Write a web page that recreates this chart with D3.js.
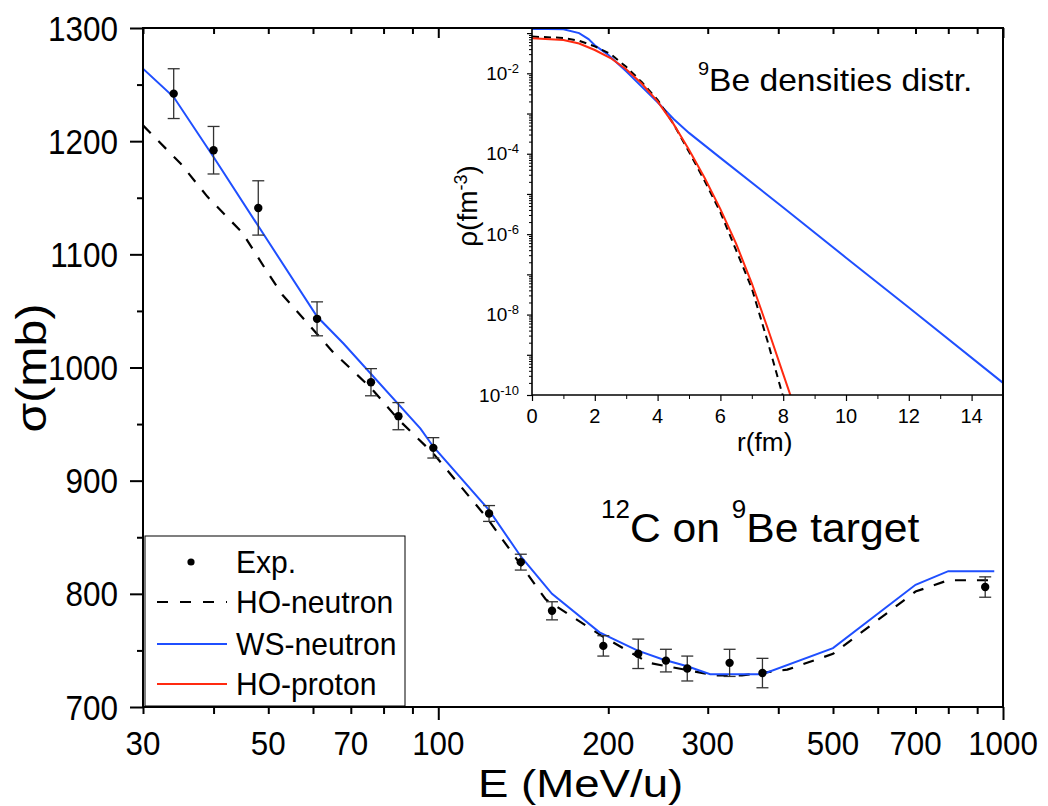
<!DOCTYPE html>
<html>
<head>
<meta charset="utf-8">
<script src="https://cdn.jsdelivr.net/npm/d3@7"></script>
<style>
  html, body { margin: 0; padding: 0; background: #fff; }
  svg { display: block; }
  text { font-family: "Liberation Sans", Arial, Helvetica, sans-serif; fill: #000; }
</style>
</head>
<body>
<svg id="chart" width="1048" height="806"></svg>
<script>
// ---- Reaction cross section of 12C on 9Be ----
const expEnergy = [34, 40, 48, 61, 76, 85, 98, 123, 140, 159, 196, 226, 253, 276, 328, 375, 930];
const expSigma  = [1242, 1192, 1141, 1043, 987, 957, 929, 871, 828, 785, 754, 747, 741, 734, 739, 730, 806];
const expError  = [22, 21, 24, 15, 12, 12, 9, 7, 7, 8, 9, 13, 10, 11, 12, 13, 9];

const wsEnergy = [30, 34, 40, 48, 61, 68, 93, 98, 123, 140, 159, 193, 225, 250, 276, 303, 375, 500, 700, 800, 965];
const wsSigma  = [1264, 1239, 1186, 1125, 1045, 1021, 946, 930, 874, 833, 800, 766, 750, 742, 736, 729, 729, 752, 808, 820, 820];

const hoEnergy = [30, 35, 39, 45, 50, 53, 65, 76, 85, 98, 122, 155, 196, 236, 309, 345, 415, 500, 700, 800, 965];
const hoSigma  = [1214, 1180, 1151, 1119, 1083, 1064, 1014, 982, 954, 924, 867, 795, 762, 739, 728, 728, 733, 747, 802, 812, 812];

const xTickLabels = [30, 50, 70, 100, 200, 300, 500, 700, 1000];
const xMinorTicks = [30, 40, 50, 60, 70, 80, 90, 200, 300, 400, 500, 600, 700, 800, 900];
const xMajorTicks = [100, 1000];
const yTickLabels = [700, 800, 900, 1000, 1100, 1200, 1300];
const yMinorTicks = [750, 850, 950, 1050, 1150, 1250];

// ---- 9Be density distributions (inset) ----
const wsR   = [0, 0.5, 1, 1.5, 1.8, 2.0, 2.4, 3.0, 3.5, 4.0, 4.5, 5, 6, 8, 10, 12, 15];
const wsRho = [1.27e-1, 1.27e-1, 1.24e-1, 1.0e-1, 7.1e-2, 5.0e-2, 3.0e-2, 1.12e-2, 4.6e-3, 1.9e-3, 7.4e-4, 3.3e-4, 7.9e-5, 4.6e-6, 2.6e-7, 1.5e-8, 2.0e-10];

const hoNR   = [0, 1, 1.5, 2, 2.5, 3, 3.5, 4, 4.5, 5, 5.5, 6, 6.5, 7, 7.5, 8];
const hoNRho = [8.18e-2, 7.59e-2, 6.46e-2, 4.68e-2, 3.02e-2, 1.45e-2, 6.0e-3, 2.2e-3, 5.6e-4, 1.12e-4, 2.1e-5, 3.5e-6, 4.0e-7, 4.5e-8, 2.2e-9, 8.9e-11];

const hoPR   = [0, 1, 1.5, 2, 2.5, 3, 3.5, 4, 4.5, 5, 5.5, 6, 6.5, 7, 7.5, 8, 8.25];
const hoPRho = [7.46e-2, 6.76e-2, 5.5e-2, 3.8e-2, 2.4e-2, 1.26e-2, 5.5e-3, 2.0e-3, 5.6e-4, 1.26e-4, 2.5e-5, 4.2e-6, 5.8e-7, 6.0e-8, 4.7e-9, 3.3e-10, 8.9e-11];

const insetXLabels = [0, 2, 4, 6, 8, 10, 12, 14];
const insetXMinor  = [1, 3, 5, 7, 9, 11, 13, 15];
const insetYLabelExps = [-2, -4, -6, -8, -10];

const legendNames = ["Exp.", "HO-neutron", "WS-neutron", "HO-proton"];
const colWS = "#1f4fff", colHOp = "#ff2a10", colHOn = "#000";

// ---- layout ----
const svg = d3.select("#chart");
const M = { left: 143, right: 1003, top: 28, bottom: 707 };
const x = d3.scaleLog().domain([30, 1000]).range([M.left, M.right]);
const y = d3.scaleLinear().domain([700, 1300]).range([M.bottom, M.top]);

const I = { left: 532, right: 1003, top: 28, bottom: 395 };
const ix = d3.scaleLinear().domain([0, 15]).range([I.left, I.right]);
const iy = d3.scaleLog().domain([1e-10, 0.134]).range([I.bottom, I.top]);

// text with optional superscript parts, positioned and scaled as a group
function label(parent, px, py, parts, o) {
  const g = parent.append("g")
    .attr("transform", `translate(${px},${py}) rotate(${o.rot || 0}) scale(${o.sx || 1},${o.sy || 1})`);
  const t = g.append("text").attr("text-anchor", o.anchor || "start").attr("font-size", o.size);
  let raised = 0;
  parts.forEach(p => {
    const s = t.append("tspan").text(p.t);
    if (p.sup) {
      s.attr("font-size", p.size).attr("dy", -p.rise - raised);
      raised = p.rise;
    } else if (raised) {
      s.attr("dy", raised);
      raised = 0;
    }
  });
  return t;
}

// ---- main plot curves ----
svg.append("clipPath").attr("id", "mainClip")
  .append("rect").attr("x", M.left).attr("y", M.top)
  .attr("width", M.right - M.left).attr("height", M.bottom - M.top);

const plot = svg.append("g").attr("clip-path", "url(#mainClip)");
const lineMain = d3.line().x(d => x(d[0])).y(d => y(d[1]));

plot.append("path")
  .datum(d3.zip(hoEnergy, hoSigma))
  .attr("d", lineMain).attr("fill", "none")
  .attr("stroke", colHOn).attr("stroke-width", 2.2).attr("stroke-dasharray", "11,11");

plot.append("path")
  .datum(d3.zip(wsEnergy, wsSigma))
  .attr("d", lineMain).attr("fill", "none")
  .attr("stroke", colWS).attr("stroke-width", 2);

const expData = expEnergy.map((e, i) => ({ e, s: expSigma[i], err: expError[i] }));
const bars = plot.append("g").attr("stroke", "#333").attr("stroke-width", 1.3);
expData.forEach(d => {
  const cx = x(d.e), y1 = y(d.s + d.err), y2 = y(d.s - d.err);
  bars.append("line").attr("x1", cx).attr("x2", cx).attr("y1", y1).attr("y2", y2);
  bars.append("line").attr("x1", cx - 6).attr("x2", cx + 6).attr("y1", y1).attr("y2", y1);
  bars.append("line").attr("x1", cx - 6).attr("x2", cx + 6).attr("y1", y2).attr("y2", y2);
});
plot.append("g").selectAll("circle").data(expData).join("circle")
  .attr("cx", d => x(d.e)).attr("cy", d => y(d.s)).attr("r", 4.2).attr("fill", "#000");

// annotation
label(svg, 601, 542, [
  { t: "12", sup: true, size: 25, rise: 24 }, { t: "C on " },
  { t: "9", sup: true, size: 25, rise: 24 }, { t: "Be target" }
], { size: 41, sx: 1.04 });

// ---- legend ----
const leg = svg.append("g");
leg.append("rect").attr("x", 145).attr("y", 536).attr("width", 260).attr("height", 170)
  .attr("fill", "#fff").attr("stroke", "#000").attr("stroke-width", 1);
const legY = [562, 602, 644, 684];
leg.append("circle").attr("cx", 191).attr("cy", legY[0]).attr("r", 3.6).attr("fill", "#000");
leg.append("line").attr("x1", 157).attr("x2", 227).attr("y1", legY[1]).attr("y2", legY[1])
  .attr("stroke", colHOn).attr("stroke-width", 2).attr("stroke-dasharray", "11,12");
leg.append("line").attr("x1", 157).attr("x2", 227).attr("y1", legY[2]).attr("y2", legY[2])
  .attr("stroke", colWS).attr("stroke-width", 2);
leg.append("line").attr("x1", 157).attr("x2", 227).attr("y1", legY[3]).attr("y2", legY[3])
  .attr("stroke", colHOp).attr("stroke-width", 2);
legendNames.forEach((n, i) => {
  label(leg, 236, legY[i] + 11, [{ t: n }], { size: 32, sx: 0.94 });
});

// ---- inset ----
const inset = svg.append("g");
inset.append("rect").attr("x", I.left).attr("y", I.top)
  .attr("width", I.right - I.left).attr("height", I.bottom - I.top).attr("fill", "#fff");

svg.append("clipPath").attr("id", "insetClip")
  .append("rect").attr("x", I.left).attr("y", I.top)
  .attr("width", I.right - I.left).attr("height", I.bottom - I.top);
const ip = inset.append("g").attr("clip-path", "url(#insetClip)");
const lineInset = d3.line().x(d => ix(d[0])).y(d => iy(d[1]));

ip.append("path").datum(d3.zip(wsR, wsRho)).attr("d", lineInset)
  .attr("fill", "none").attr("stroke", colWS).attr("stroke-width", 2);
ip.append("path").datum(d3.zip(hoNR, hoNRho)).attr("d", lineInset)
  .attr("fill", "none").attr("stroke", colHOn).attr("stroke-width", 2).attr("stroke-dasharray", "7,5");
ip.append("path").datum(d3.zip(hoPR, hoPRho)).attr("d", lineInset)
  .attr("fill", "none").attr("stroke", colHOp).attr("stroke-width", 2);

// inset frame (left and bottom; top and right shared with main frame)
inset.append("line").attr("x1", I.left).attr("x2", I.left).attr("y1", I.top).attr("y2", I.bottom)
  .attr("stroke", "#000").attr("stroke-width", 1.6);
inset.append("line").attr("x1", I.left).attr("x2", I.right).attr("y1", I.bottom).attr("y2", I.bottom)
  .attr("stroke", "#000").attr("stroke-width", 1.6);

// inset y ticks: decades and minor 2..9
const decades = d3.range(-10, 0).map(k => Math.pow(10, k));
const minorLog = [];
d3.range(-10, 0).forEach(k => { for (let m = 2; m <= 9; m++) { const v = m * Math.pow(10, k); if (v <= 0.134) minorLog.push(v); } });

function styleAxis(g, w) {
  g.select(".domain").remove();
  g.selectAll("line").attr("stroke", "#000").attr("stroke-width", w);
  g.selectAll("text").remove();
}
inset.append("g").attr("transform", `translate(${I.left},0)`)
  .call(d3.axisLeft(iy).tickValues(decades).tickSize(5).tickFormat(""))
  .call(g => styleAxis(g, 1.2));
inset.append("g").attr("transform", `translate(${I.left},0)`)
  .call(d3.axisLeft(iy).tickValues(minorLog).tickSize(3).tickFormat(""))
  .call(g => styleAxis(g, 1));
inset.append("g").attr("transform", `translate(0,${I.bottom})`)
  .call(d3.axisBottom(ix).tickValues(insetXLabels).tickSize(6).tickFormat(""))
  .call(g => styleAxis(g, 1.2));
inset.append("g").attr("transform", `translate(0,${I.bottom})`)
  .call(d3.axisBottom(ix).tickValues(insetXMinor).tickSize(4).tickFormat(""))
  .call(g => styleAxis(g, 1));

insetYLabelExps.forEach(k => {
  label(inset, 519, iy(Math.pow(10, k)) + 6.7, [
    { t: "10" }, { t: String(k), sup: true, size: 13, rise: 7 }
  ], { size: 19, anchor: "end" });
});
insetXLabels.forEach(v => {
  label(inset, ix(v), 423, [{ t: String(v) }], { size: 20, anchor: "middle" });
});
label(inset, 737, 451, [{ t: "r(fm)" }], { size: 25, sx: 1.05 });
label(inset, 477, 206, [
  { t: "\u03c1(fm" }, { t: "-3", sup: true, size: 18, rise: 10 }, { t: ")" }
], { size: 28, anchor: "middle", rot: -90 });
label(inset, 698, 91, [
  { t: "9", sup: true, size: 19, rise: 16 }, { t: "Be densities distr." }
], { size: 32, sx: 1.05 });

// ---- main frame and axes ----
const frame = svg.append("g");
frame.append("rect").attr("x", M.left).attr("y", M.top)
  .attr("width", M.right - M.left).attr("height", M.bottom - M.top)
  .attr("fill", "none").attr("stroke", "#000").attr("stroke-width", 2);

frame.append("g").attr("transform", `translate(0,${M.bottom})`)
  .call(d3.axisBottom(x).tickValues(xMinorTicks).tickSize(7).tickFormat(""))
  .call(g => styleAxis(g, 2));
frame.append("g").attr("transform", `translate(0,${M.bottom})`)
  .call(d3.axisBottom(x).tickValues(xMajorTicks).tickSize(13).tickFormat(""))
  .call(g => styleAxis(g, 2));
frame.append("g").attr("transform", `translate(0,${M.top})`)
  .call(d3.axisTop(x).tickValues(xMinorTicks).tickSize(-6).tickFormat(""))
  .call(g => styleAxis(g, 2));
frame.append("g").attr("transform", `translate(0,${M.top})`)
  .call(d3.axisTop(x).tickValues(xMajorTicks).tickSize(-10).tickFormat(""))
  .call(g => styleAxis(g, 2));
frame.append("g").attr("transform", `translate(${M.left},0)`)
  .call(d3.axisLeft(y).tickValues(yTickLabels).tickSize(13).tickFormat(""))
  .call(g => styleAxis(g, 2));
frame.append("g").attr("transform", `translate(${M.left},0)`)
  .call(d3.axisLeft(y).tickValues(yMinorTicks).tickSize(6).tickFormat(""))
  .call(g => styleAxis(g, 2));

yTickLabels.forEach(v => {
  label(frame, 118, y(v) + 12.5, [{ t: String(v) }], { size: 35, sx: 0.9, anchor: "end" });
});
xTickLabels.forEach(v => {
  label(frame, x(v), 755, [{ t: String(v) }], { size: 33, sx: 0.95, anchor: "middle" });
});
label(frame, 478, 797, [{ t: "E (MeV/u)" }], { size: 38, sx: 1.2 });
label(frame, 46, 368, [{ t: "\u03c3(mb)" }], { size: 42, sx: 1.15, anchor: "middle", rot: -90 });
</script>
</body>
</html>
